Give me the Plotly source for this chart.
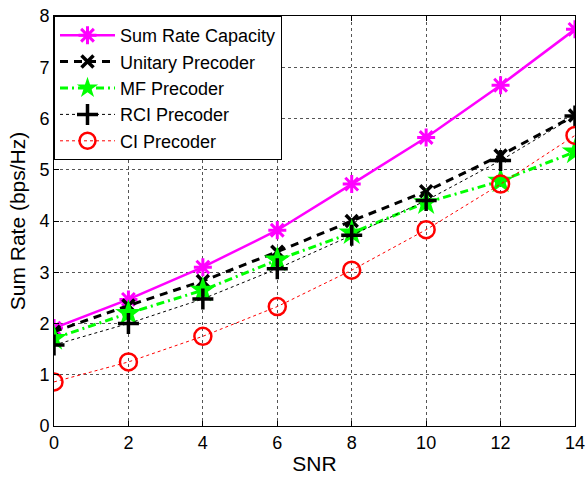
import plotly.graph_objects as go

snr = [0, 2, 4, 6, 8, 10, 12, 14]
sum_rate_capacity = [1.91, 2.47, 3.10, 3.82, 4.72, 5.63, 6.65, 7.74]
unitary = [1.84, 2.35, 2.83, 3.40, 4.00, 4.58, 5.28, 6.06]
mf = [1.71, 2.20, 2.65, 3.24, 3.77, 4.36, 4.78, 5.35]
rci = [1.58, 2.00, 2.48, 3.07, 3.72, 4.40, 5.18, 6.05]
ci = [0.86, 1.25, 1.75, 2.33, 3.04, 3.83, 4.72, 5.67]

FONT = "Liberation Sans, Arial, Helvetica, sans-serif"

fig = go.Figure()
fig.add_trace(go.Scatter(x=snr, y=sum_rate_capacity, name="Sum Rate Capacity",
    mode="lines+markers", line=dict(color="#ff00ff", width=2.5),
    marker=dict(symbol="asterisk-open", size=15, color="#ff00ff", line=dict(width=3, color="#ff00ff"))))
fig.add_trace(go.Scatter(x=snr, y=unitary, name="Unitary Precoder",
    mode="lines+markers", line=dict(color="black", width=3, dash="8px,6px"),
    marker=dict(symbol="x-thin-open", size=12, color="black", line=dict(width=3.5, color="black"))))
fig.add_trace(go.Scatter(x=snr, y=mf, name="MF Precoder",
    mode="lines+markers", line=dict(color="#00ff00", width=3, dash="8px,4px,2px,4px"),
    marker=dict(symbol="star", size=20, color="#00ff00", line=dict(width=0))))
fig.add_trace(go.Scatter(x=snr, y=rci, name="RCI Precoder",
    mode="lines+markers", line=dict(color="black", width=1, dash="dot"),
    marker=dict(symbol="cross-thin-open", size=15, color="black", line=dict(width=3.5, color="black"))))
fig.add_trace(go.Scatter(x=snr, y=ci, name="CI Precoder",
    mode="lines+markers", line=dict(color="#ff0000", width=1, dash="dot"),
    marker=dict(symbol="circle-open", size=17, color="#ff0000", line=dict(width=2.5, color="#ff0000"))))

axis_common = dict(
    showline=True, linecolor="black", linewidth=1, mirror="ticks",
    ticks="inside", ticklen=5, tickcolor="black",
    showgrid=True, gridcolor="#555555", gridwidth=1, griddash="dot",
    zeroline=False, tickfont=dict(size=18, color="black", family=FONT),
    automargin=False, ticklabeloverflow="allow",
)

fig.update_layout(
    width=587, height=478,
    margin=dict(l=54, r=12, t=16, b=52),
    paper_bgcolor="white", plot_bgcolor="white",
    font=dict(family=FONT, color="black"),
    xaxis=dict(range=[0, 14], tickvals=[0, 2, 4, 6, 8, 10, 12, 14],
               title=dict(text="SNR", font=dict(size=21), standoff=4), **axis_common),
    yaxis=dict(range=[0, 8], tickvals=[0, 1, 2, 3, 4, 5, 6, 7, 8],
               title=dict(text="Sum Rate (bps/Hz)", font=dict(size=21), standoff=8), **axis_common),
    legend=dict(x=0, y=1, xanchor="left", yanchor="top", bgcolor="white",
                bordercolor="black", borderwidth=1, font=dict(size=18, family=FONT),
                tracegroupgap=0, itemwidth=55),
    showlegend=True,
)

# remove the default page margin so the figure sits at the window's top-left corner
fig.write_html("out.html", config={"displayModeBar": False},
               post_script="document.body.style.margin='0';document.body.style.overflow='hidden';")
